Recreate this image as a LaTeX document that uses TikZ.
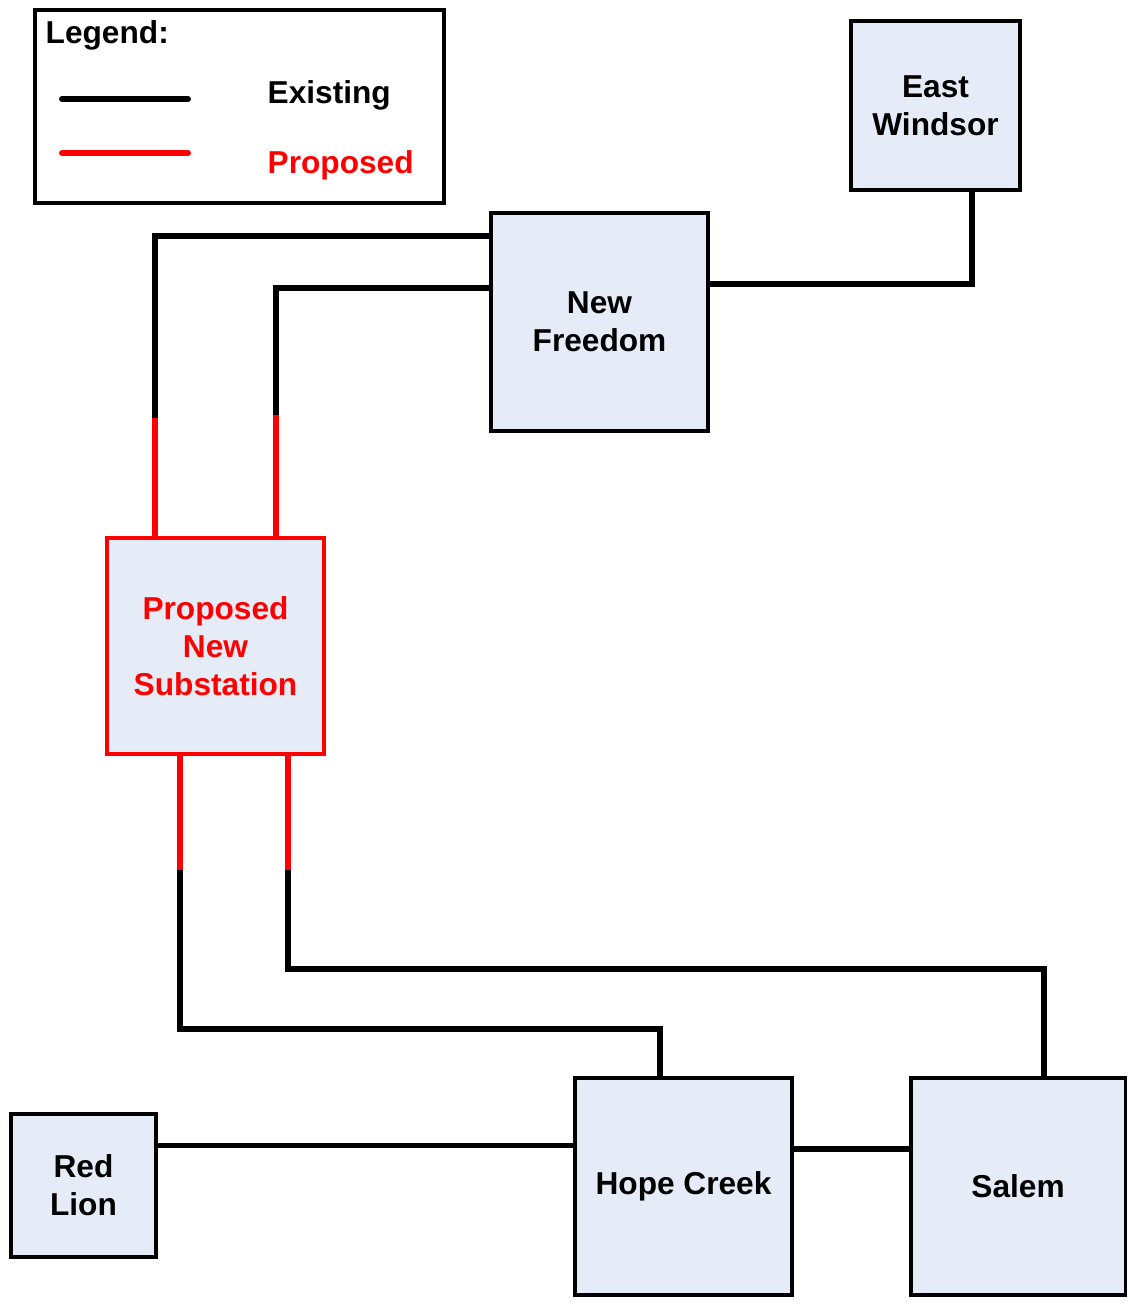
\documentclass[tikz,border=0pt]{standalone}
\usepackage{fontspec}
\setmainfont{Liberation Sans}
\usetikzlibrary{calc,positioning}
\definecolor{StationFill}{HTML}{E6ECF7}
\definecolor{LineRed}{HTML}{FF0000}
\tikzset{
  every node/.style={font=\bfseries\fontsize{9}{10.8}\selectfont, text=black},
  station/.style={draw=black, line width=0.9pt, fill=StationFill, align=center, inner sep=0pt},
  newstation/.style={station, draw=LineRed, text=LineRed},
  legendtext/.style={anchor=base west, inner sep=0pt},
  existing/.style={draw=black, line width=1.7pt},
  proposed/.style={draw=LineRed, line width=1.7pt},
}
\begin{document}
\begin{tikzpicture}[x=0.01cm,y=-0.01cm]
  \useasboundingbox (0,0) rectangle (1127,1304);
  % Legend
  \draw[black, line width=0.9pt] (35,10) rectangle (444,203);
  \node[legendtext] (legtitle) at (45,44) {Legend:};
  \coordinate (lega) at (62,99);
  \coordinate (legb) at (188,99);
  \coordinate (legc) at (62,153);
  \coordinate (legd) at (188,153);
  \draw[existing, line cap=round] (lega) -- (legb);
  \draw[proposed, line cap=round] (legc) -- (legd);
  \node[legendtext] (legex) at (267,104) {Existing};
  \node[legendtext, text=LineRed] (legpr) at (267,174) {Proposed};
  % Stations
  \node[station, minimum width=1.69cm, minimum height=1.69cm] (ew) at (935.5,105.5) {East\\Windsor};
  \node[station, minimum width=2.17cm, minimum height=2.18cm] (nf) at (599.5,322) {New\\Freedom};
  \node[newstation, minimum width=2.17cm, minimum height=2.16cm] (ps) at (215.5,646) {Proposed\\New\\Substation};
  \node[station, minimum width=1.45cm, minimum height=1.43cm] (rl) at (83.5,1185.5) {Red\\Lion};
  \node[station, minimum width=2.17cm, minimum height=2.17cm] (hc) at (683.5,1186.5) {Hope Creek};
  \node[station, minimum width=2.14cm, minimum height=2.17cm] (sa) at (1018,1186.5) {Salem};
  % Points where existing lines meet the proposed taps
  \coordinate (ja) at (155,418);
  \coordinate (jb) at (276,415);
  \coordinate (jc) at (180,870);
  \coordinate (jd) at (288,870);
  \coordinate (hctop) at ([xshift=-0.235cm]hc.north);
  \coordinate (satop) at ([xshift=0.26cm]sa.north);
  \coordinate (rlout) at ([yshift=0.4cm]rl.east);
  \coordinate (hcout) at ([yshift=0.375cm]hc.east);
  % Existing lines
  \draw[existing] ([yshift=-0.73cm]nf.north east) -| ([xshift=0.36cm]ew.south);
  \draw[existing] ([yshift=-0.25cm]nf.north west) -| (ja);
  \draw[existing] ([yshift=-0.77cm]nf.north west) -| (jb);
  \draw[existing] (jc) -- ++(0,159) -| (hctop);
  \draw[existing] (jd) -- ++(0,99) -| (satop);
  \draw[existing] (rlout) -- (rlout -| hc.west);
  \draw[existing] (hcout) -- (hcout -| sa.west);
  % Proposed taps
  \draw[proposed] (ja) -- (ja |- ps.north);
  \draw[proposed] (jb) -- (jb |- ps.north);
  \draw[proposed] (jc |- ps.south) -- (jc);
  \draw[proposed] (jd |- ps.south) -- (jd);
\end{tikzpicture}
\end{document}
